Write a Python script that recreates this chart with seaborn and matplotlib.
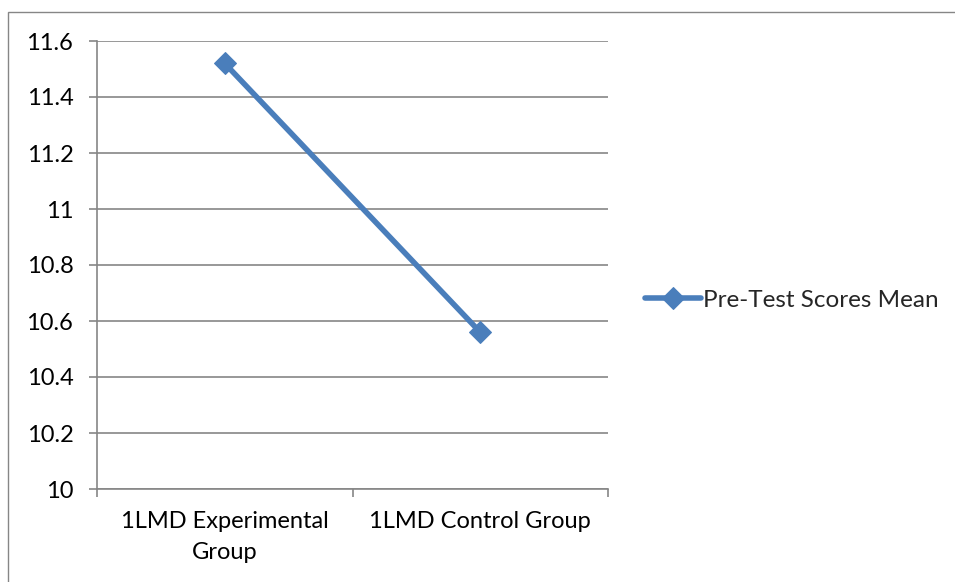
import matplotlib
matplotlib.use("Agg")
import matplotlib.pyplot as plt
import matplotlib.patches as mpatches
import seaborn as sns
import pandas as pd

categories = ["1LMD Experimental\nGroup", "1LMD Control Group"]
series_name = "Pre-Test Scores Mean"
values = [11.52, 10.56]
yticks = [10, 10.2, 10.4, 10.6, 10.8, 11, 11.2, 11.4, 11.6]
ytick_labels = ["10", "10.2", "10.4", "10.6", "10.8", "11", "11.2", "11.4", "11.6"]

sns.set_theme(style="white")
plt.rcParams["font.family"] = ["Lato", "DejaVu Sans"]

df = pd.DataFrame({"group": categories, "score": values, "series": series_name})

fig = plt.figure(figsize=(9.55, 5.82), dpi=100)
ax = fig.add_axes([97/955, 1 - 489/582, (608-97)/955, (489-41)/582])

blue = "#4A7EBB"
gray = "#868686"

sns.lineplot(data=df, x="group", y="score", hue="series", palette=[blue], marker="D",
             markersize=11, linewidth=4.0, markeredgecolor=blue, ax=ax, sort=False)

ax.set_xlim(-0.5, 1.5)
ax.set_ylim(10, 11.6)
ax.set_yticks(yticks)
ax.set_yticklabels(ytick_labels, fontsize=17, color="black")
ax.set_xticks([0, 1])
ax.set_xticklabels(categories, fontsize=17, color="black", linespacing=1.6)
ax.set_xticks([-0.5, 0.5, 1.5], minor=True)
ax.tick_params(axis="x", which="major", length=0, pad=16)
ax.tick_params(axis="x", which="minor", length=6, width=1.2, color=gray, direction="out", bottom=True)
ax.tick_params(axis="y", length=6, width=1.2, color=gray, direction="out", left=True, pad=11)
ax.set_xlabel("")
ax.set_ylabel("")
ax.grid(axis="y", color=gray, linewidth=1.2)
ax.grid(axis="x", visible=False)
for s in ["top", "right"]:
    ax.spines[s].set_visible(False)
for s in ["left", "bottom"]:
    ax.spines[s].set_color(gray)
    ax.spines[s].set_linewidth(1.2)
ax.set_axisbelow(True)

leg = ax.legend(loc="center left", bbox_to_anchor=(645/955, 1 - 300/582),
                bbox_transform=fig.transFigure, frameon=False, fontsize=17.5,
                handlelength=2.3, handletextpad=0.1, borderaxespad=0, borderpad=0)

border = mpatches.Rectangle((8/955, -0.05), 1.2, 1 - 12/582 + 0.05, transform=fig.transFigure,
                            fill=False, edgecolor=gray, linewidth=1.0, clip_on=False)
fig.patches.append(border)

fig.savefig("out.png", dpi=100, facecolor="white")
